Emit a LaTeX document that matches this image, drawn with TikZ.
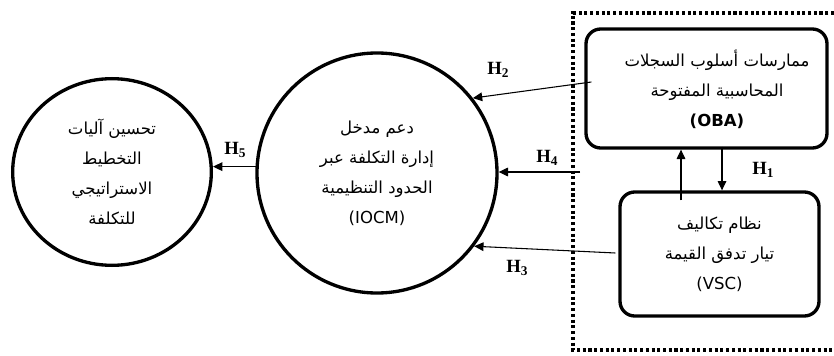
\documentclass[tikz,border=0pt]{standalone}
\usepackage{fontspec}
\setmainfont{Liberation Serif}
\newfontfamily\arabicfont[Script=Arabic]{DejaVu Sans}
\newfontfamily\latinsans{DejaVu Sans}
\TeXXeTstate=1
\usetikzlibrary{arrows.meta,shapes.geometric,calc}

% hypothesis label: bold H with a lowered index
\newcommand\hypo[1]{H\raisebox{-0.35ex}{\fontsize{10}{10}\selectfont #1}}

\begin{document}
\begin{tikzpicture}[x=0.75pt,y=-0.75pt,
  bubble/.style={draw, line width=2.5pt, inner sep=0pt},
  card/.style={draw, line width=2.5pt, rectangle, rounded corners=11pt, inner sep=0pt},
  caption/.style={align=center, font=\arabicfont\fontsize{12.4}{22.5}\selectfont},
  link/.style={line width=0.8pt, -{Triangle[length=7pt,width=6.5pt]}},
  hyplabel/.style={font=\bfseries\fontsize{14}{14}\selectfont, inner sep=0pt},
  frame/.style={line width=2.4pt, dash pattern=on 2.3pt off 2pt}
]
\useasboundingbox (0,0) rectangle (834,356);

% dotted boundary around the two practices (open to the right)
\draw[frame] (834,13) -- (573,13) -- (573,350) -- (834,350);

% outcome
\node[bubble, ellipse, minimum width=149pt, minimum height=140pt, caption] (goal) at (112,172)
  {\beginR تحسين آليات\endR\\ \beginR التخطيط\endR\\ \beginR الاستراتيجي\endR\\ \beginR للتكلفة\endR};

% mediator
\node[bubble, circle, minimum size=180pt, caption] (iocm) at (377,173)
  {\beginR دعم مدخل\endR\\ \beginR إدارة التكلفة عبر\endR\\ \beginR الحدود التنظيمية\endR\\ {\latinsans (IOCM)}};

% drivers
\node[card, minimum width=180.75pt, minimum height=89.25pt] (oba) at (706.5,88.5) {};
\node[caption] (obatext) at (717,89.5)
  {\beginR ممارسات أسلوب السجلات\endR\\ \beginR المحاسبية المفتوحة\endR\\ {\latinsans\bfseries (OBA)}};

\node[card, minimum width=149.25pt, minimum height=93pt, caption] (vsc) at (719.5,254)
  {\beginR نظام تكاليف\endR\\ \beginR تيار تدفق القيمة\endR\\ {\latinsans (VSC)}};

% connectors
\coordinate (h2start) at ($(oba.west)+(7,-6.5)$);
\draw[link] (h2start) -- (iocm.38);

\coordinate (h4start) at (580,172);
\draw[link] (h4start) -- (h4start -| iocm.east);

\coordinate (h3start) at ($(vsc.west)+(-3,-1)$);
\draw[link] (h3start) -- (iocm.-37);

\draw[link] (iocm.177) -- (iocm.177 -| goal.east);

\coordinate (h1up) at ($(vsc.north)+(-38.5,10)$);
\draw[link] (h1up) -- (h1up |- oba.south);
\coordinate (h1dn) at ($(oba.south)+(15.5,-3)$);
\draw[link] (h1dn) -- (h1dn |- vsc.north);

% hypothesis labels
\node[hyplabel] (lh1) at (763,170) {\hypo{1}};
\node[hyplabel] (lh2) at (498,70) {\hypo{2}};
\node[hyplabel] (lh3) at (517,268) {\hypo{3}};
\node[hyplabel] (lh4) at (547,158) {\hypo{4}};
\node[hyplabel] (lh5) at (235,150) {\hypo{5}};
\end{tikzpicture}
\end{document}
